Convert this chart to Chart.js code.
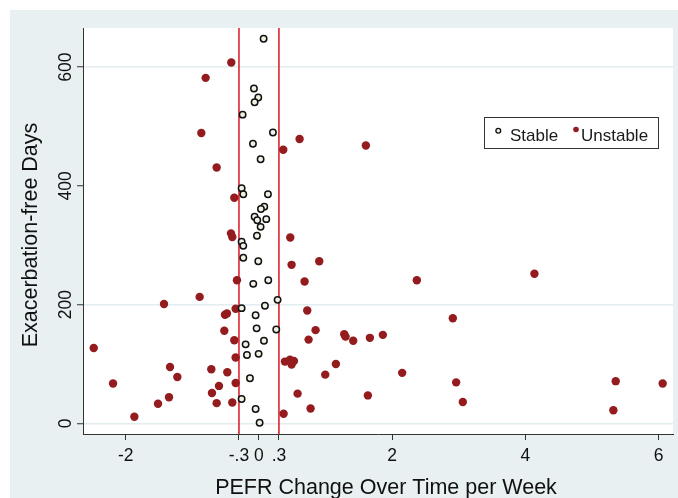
<!DOCTYPE html>
<html>
<head>
<meta charset="utf-8">
<script src="https://cdn.jsdelivr.net/npm/chart.js@4.4.1/dist/chart.umd.min.js"></script>
<style>
  html, body { margin: 0; padding: 0; background: #ffffff; }
  #c { display: block; }
</style>
</head>
<body>
<canvas id="c" width="678" height="498" style="width:678px;height:498px"></canvas>
<script>
// ---------- data ----------
const xTicks = [-2, -0.3, 0, 0.3, 2, 4, 6];
const xTickLabels = ['-2', '-.3', '0', '.3', '2', '4', '6'];
const yTicks = [0, 200, 400, 600];
const yTickLabels = ['0', '200', '400', '600'];
const yGridValues = [0, 200, 600];
const refLines = [-0.3, 0.3];
const xTitle = 'PEFR Change Over Time per Week';
const yTitle = 'Exacerbation-free Days';
const seriesNames = ['Stable', 'Unstable'];

const stableX = [0.07, -0.075, -0.01, -0.065, -0.245, 0.21, -0.09, 0.025, -0.26, -0.235,
  0.135, 0.08, 0.03, -0.065, 0.11, -0.025, 0.025, -0.03, -0.26, -0.235,
  -0.235, -0.01, 0.14, -0.085, 0.28, -0.26, 0.09, -0.05, -0.035, 0.26,
  0.075, -0.2, -0.18, -0.005, -0.135, -0.26, -0.05, 0.01];
const stableY = [648, 564, 549, 541, 520, 490, 471, 445, 396, 386,
  386, 365, 361, 348, 344, 342, 331, 316, 306, 299,
  279, 273, 241, 235, 208, 194, 198, 182, 160, 158,
  139, 133, 115, 117, 76, 41, 24, 1];

const unstableX = [-0.415, -0.80, -0.865, 0.61, 0.365, 1.605, -0.635, -0.37, -0.42, -0.40,
  0.47, 0.49, 0.905, -0.33, 0.685, 2.37, 4.135, -0.89, -1.425, -0.35,
  -0.51, -0.48, 0.725, 2.91, -0.52, 0.85, -0.37, 0.745, 1.28, 1.30,
  1.415, 1.665, 1.86, -2.48, -0.35, 0.39, 0.465, 0.525, 0.49, 1.155,
  -1.335, -0.715, -0.475, 0.995, 2.15, -1.225, -2.19, -0.35, -0.60, 2.96,
  5.355, 6.06, -0.705, 0.58, 1.635, -1.35, -1.515, -0.635, -0.40, 3.06,
  0.775, 5.32, 0.37, -1.87];
const unstableY = [608, 582, 489, 479, 461, 468, 431, 380, 320, 314,
  313, 267, 273, 241, 239, 241, 252, 213, 201, 193,
  183, 185, 190, 177, 156, 157, 140, 141, 150, 146,
  139, 144, 149, 127, 111, 104, 107, 105, 99, 100,
  95, 91, 86, 82, 85, 78, 67, 68, 63, 69,
  71, 67, 51, 50, 47, 44, 33, 34, 35, 36,
  25, 22, 16, 11];

// ---------- axis ranges ----------
const xMin = -2.641, xMax = 6.215;
const yMin = -18, yMax = 666;

const FONT = '"Liberation Sans", Arial, Helvetica, sans-serif';
const COLORS = {
  outer: '#e8f0f2',
  grid: '#e2edf0',
  axis: '#333333',
  text: '#111111',
  ref: '#dc2430',
  unstable: '#941b1e',
  stableFill: '#f0f0e4',
  stableStroke: '#111111'
};

const toPts = (xs, ys) => xs.map((x, i) => ({ x: x, y: ys[i] }));

const refDatasets = refLines.map(v => ({
  type: 'line',
  label: 'ref',
  data: [{ x: v, y: yMin }, { x: v, y: yMax }],
  borderColor: COLORS.ref,
  borderWidth: 1.6,
  pointRadius: 0,
  fill: false,
  order: 3
}));

const backgroundPlugin = {
  id: 'bg',
  beforeDraw(chart) {
    const { ctx, width, height, chartArea } = chart;
    ctx.save();
    ctx.fillStyle = '#ffffff';
    ctx.fillRect(0, 0, width, height);
    ctx.fillStyle = COLORS.outer;
    ctx.fillRect(10, 10, width - 10, height - 10);
    ctx.fillStyle = '#ffffff';
    ctx.fillRect(chartArea.left, chartArea.top, chartArea.right - chartArea.left, chartArea.bottom - chartArea.top);
    ctx.restore();
  }
};

const decorPlugin = {
  id: 'decor',
  afterDraw(chart) {
    const { ctx } = chart;
    ctx.save();
    // axis titles
    ctx.fillStyle = COLORS.text;
    ctx.font = '21.5px ' + FONT;
    ctx.textAlign = 'center';
    ctx.textBaseline = 'alphabetic';
    ctx.fillText(xTitle, 386, 494);
    ctx.save();
    ctx.translate(37, 235);
    ctx.rotate(-Math.PI / 2);
    ctx.fillText(yTitle, 0, 0);
    ctx.restore();

    // legend
    const lx = 484.5, ly = 117.5, lw = 174, lh = 31;
    ctx.fillStyle = '#ffffff';
    ctx.fillRect(lx, ly, lw, lh);
    ctx.strokeStyle = '#333333';
    ctx.lineWidth = 1;
    ctx.strokeRect(lx, ly, lw, lh);

    const ds = chart.data.datasets;
    // stable marker
    ctx.beginPath();
    ctx.arc(498.3, 130.7, 2.4, 0, Math.PI * 2);
    ctx.fillStyle = ds[0].backgroundColor;
    ctx.fill();
    ctx.lineWidth = 1.3;
    ctx.strokeStyle = ds[0].borderColor;
    ctx.stroke();
    // unstable marker
    ctx.beginPath();
    ctx.arc(576, 129.5, 2.8, 0, Math.PI * 2);
    ctx.fillStyle = ds[1].backgroundColor;
    ctx.fill();

    ctx.fillStyle = '#1a1a1a';
    ctx.font = '17px ' + FONT;
    ctx.textAlign = 'left';
    ctx.textBaseline = 'alphabetic';
    ctx.fillText(ds[0].label, 510, 140.7);
    ctx.fillText(ds[1].label, 581, 140.7);
    ctx.restore();
  }
};

new Chart(document.getElementById('c'), {
  type: 'scatter',
  data: {
    datasets: [
      {
        label: seriesNames[0],
        data: toPts(stableX, stableY),
        pointRadius: 3.2,
        pointBorderWidth: 1.5,
        backgroundColor: COLORS.stableFill,
        borderColor: COLORS.stableStroke,
        pointHoverRadius: 3.2,
        order: 1
      },
      {
        label: seriesNames[1],
        data: toPts(unstableX, unstableY),
        pointRadius: 4.2,
        pointBorderWidth: 0,
        backgroundColor: COLORS.unstable,
        borderColor: COLORS.unstable,
        pointHoverRadius: 4.2,
        order: 2
      },
      ...refDatasets
    ]
  },
  options: {
    responsive: false,
    animation: false,
    devicePixelRatio: 1,
    events: [],
    layout: { padding: { left: 0, top: 28, right: 5, bottom: 0 } },
    plugins: {
      legend: { display: false },
      tooltip: { enabled: false },
      title: { display: false }
    },
    scales: {
      x: {
        type: 'linear',
        min: xMin,
        max: xMax,
        afterFit(scale) { scale.height = 64; },
        afterBuildTicks(scale) { scale.ticks = xTicks.map(v => ({ value: v })); },
        ticks: {
          autoSkip: false,
          maxRotation: 0,
          minRotation: 0,
          padding: 6,
          color: COLORS.text,
          font: { family: FONT, size: 17.5 },
          callback: (v, i) => xTickLabels[i]
        },
        grid: {
          display: true,
          drawOnChartArea: false,
          drawTicks: true,
          tickLength: 6,
          tickColor: COLORS.axis,
          tickWidth: 1
        },
        border: { display: true, color: COLORS.axis, width: 1 }
      },
      y: {
        type: 'linear',
        min: yMin,
        max: yMax,
        afterFit(scale) { scale.width = 83; },
        afterBuildTicks(scale) { scale.ticks = yTicks.map(v => ({ value: v })); },
        ticks: {
          autoSkip: false,
          minRotation: 90,
          maxRotation: 90,
          crossAlign: 'center',
          padding: -3.6,
          color: COLORS.text,
          font: { family: FONT, size: 17.5 },
          callback: (v, i) => yTickLabels[i]
        },
        grid: {
          display: true,
          drawOnChartArea: true,
          drawTicks: true,
          tickLength: 6,
          tickColor: COLORS.axis,
          tickWidth: 1,
          lineWidth: 1.5,
          color: (c) => (c.tick && yGridValues.includes(c.tick.value)) ? COLORS.grid : 'rgba(0,0,0,0)'
        },
        border: { display: true, color: COLORS.axis, width: 1 }
      }
    }
  },
  plugins: [backgroundPlugin, decorPlugin]
});
</script>
</body>
</html>
